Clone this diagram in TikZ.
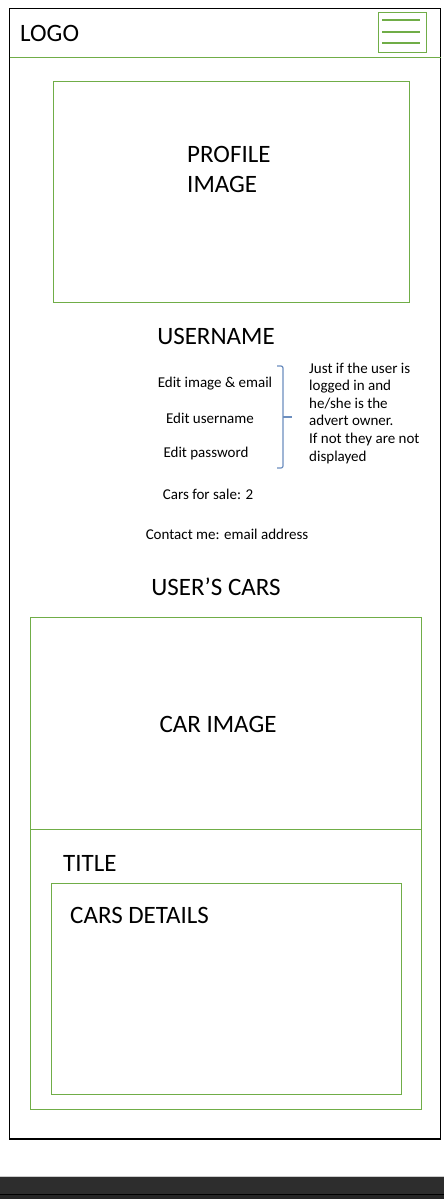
\documentclass[tikz,border=0pt]{standalone}
\usepackage{fontspec}
\setmainfont{Carlito}
\definecolor{wfgreen}{HTML}{70AD47}
\definecolor{bracecol}{HTML}{6C8EBF}
\definecolor{barbg}{HTML}{2D2D2D}
\definecolor{barbot}{HTML}{262626}
\begin{document}
\begin{tikzpicture}[x=1pt,y=-1pt,
  big/.style={font=\fontsize{25}{30}\selectfont, inner sep=0pt},
  small/.style={font=\fontsize{15}{17.6}\selectfont, inner sep=0pt},
  box/.style={draw=wfgreen, line width=1pt},
  burger/.style={draw=wfgreen, line width=2pt}]
\useasboundingbox (0,0) rectangle (444,1199);
\fill[white] (0,0) rectangle (444,1199);
% outer frame and header
\draw[line width=1.2pt] (9.5,8.5) rectangle (440.5,1139);
\draw[wfgreen, line width=0.8pt] (9.5,57.5) -- (440.5,57.5);
\node[big, anchor=base west] (logo) at (20,42) {LOGO};
% hamburger
\draw[box] (378.5,12.5) rectangle (426.5,53);
\draw[burger] (382,20) -- (420,20);
\draw[burger] (382,32) -- (420,32);
\draw[burger] (382,43) -- (420,43);
% profile image
\draw[box] (53.5,81.5) rectangle (409.5,302);
\node[big, anchor=base west] (prof1) at (187,162) {PROFILE};
\node[big, anchor=base west] (prof2) at (187,192) {IMAGE};
% username block
\node[big, anchor=base] (uname) at (216,344) {USERNAME};
\node[small, anchor=base] (edit1) at (215,387) {Edit image \& email};
\node[small, anchor=base] (edit2) at (210,423) {Edit username};
\node[small, anchor=base] (edit3) at (206,457) {Edit password};
% brace
\draw[bracecol, line width=1.2pt, rounded corners=2pt] (277,366) -- (283,366) -- (283,468) -- (277,468);
\draw[bracecol, line width=1.2pt] (283,417) -- (292,417);
% note
\node[small, anchor=base west] (n1) at (309,373) {Just if the user is};
\node[small, anchor=base west] (n2) at (309,390.6) {logged in and};
\node[small, anchor=base west] (n3) at (309,408.2) {he/she is the};
\node[small, anchor=base west] (n4) at (309,425.8) {advert owner.};
\node[small, anchor=base west] (n5) at (309,443.4) {If not they are not};
\node[small, anchor=base west] (n6) at (309,461) {displayed};
% info
\node[small, anchor=base] (sale) at (208,499) {Cars for sale: 2};
\node[small, anchor=base] (contact) at (227,539) {Contact me: email address};
\node[big, anchor=base] (cars) at (216,595) {USER’S CARS};
% car card
\draw[box] (30.5,617.5) rectangle (421.5,1109);
\draw[wfgreen, line width=0.8pt] (30.5,829.5) -- (421.5,829.5);
\node[big, anchor=base] (carimg) at (218,732) {CAR IMAGE};
\node[big, anchor=base west] (title) at (63,871) {TITLE};
\draw[box] (51.5,883.5) rectangle (401.5,1094);
\node[big, anchor=base west] (details) at (70,923) {CARS DETAILS};
% bottom bar
\fill[gray!40] (0,1176) rectangle (444,1177);
\fill[barbg] (0,1177) rectangle (444,1194);
\fill[black] (0,1194) rectangle (444,1195);
\fill[barbot] (0,1195) rectangle (444,1199);
\end{tikzpicture}
\end{document}
